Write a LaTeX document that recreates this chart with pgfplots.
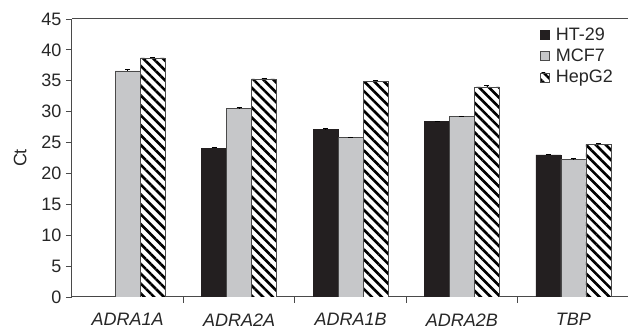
\documentclass[border=0pt]{standalone}
\usepackage{fontspec}
\setmainfont{Liberation Sans}
\usepackage{pgfplots}
\pgfplotsset{compat=1.18}
\usetikzlibrary{patterns.meta}
\definecolor{barblack}{HTML}{231F20}
\definecolor{bargray}{HTML}{C6C7C9}
\definecolor{axgray}{HTML}{4A4A4A}
\begin{document}
\begin{tikzpicture}
\useasboundingbox (-72pt,-34pt) rectangle (556pt,297pt);
\begin{axis}[
  at={(0,0)}, anchor=south west,
  scale only axis, width=556pt, height=278pt,
  ybar, bar width=0.224,
  xmin=-0.5, xmax=4.49,
  ymin=0, ymax=45,
  ytick={0,5,...,45},
  xtick={0,1,2,3,4},
  xticklabels={\textit{ADRA1A},\textit{ADRA2A},\textit{ADRA1B},\textit{ADRA2B},\textit{TBP}},
  minor xtick={0.5,1.5,2.5,3.5},
  major x tick style={draw=none},
  tick align=outside,
  major tick length=6pt, minor tick length=6pt,
  x tick style={axgray, line width=0.8pt},
  y tick style={axgray, line width=0.8pt},
  axis x line*=bottom, axis y line*=left,
  axis line style={axgray, line width=1pt, -},
  ytick pos=left,
  /pgf/number format/assume math mode=true,
  tick label style={font=\fontsize{18}{21}\selectfont, text=black!85},
  xticklabel style={yshift=-7pt},
  yticklabel style={xshift=-1pt},
  ylabel={Ct},
  ylabel style={at={(axis description cs:-0.093,0.5)}, anchor=center, font=\fontsize{18}{21}\selectfont, text=black!85},
  legend cell align=left,
  legend style={draw=none, fill=none, at={(rel axis cs:0.842,0.975)}, anchor=north west,
    font=\fontsize{18}{21}\selectfont, text=black!85, row sep=3pt, inner sep=0pt},
  legend image code/.code={\draw[#1, line width=0.6pt] (0pt,-4.5pt) rectangle (9pt,4.5pt); \path (13pt,0pt);},
  error bars/y dir=plus, error bars/y explicit,
  error bars/error bar style={black, line width=0.6pt},
  error bars/error mark options={rotate=90, mark size=2.5pt, line width=0.6pt, black},
]
\addplot[bar shift=-0.224, fill=barblack, draw=barblack, line width=0.6pt]
  coordinates {(0,0) (1,24.1) +- (0,0.1) (2,27.1) +- (0,0.2) (3,28.4) +- (0,0.1) (4,23.0) +- (0,0.1)};
\addplot[bar shift=0, fill=bargray, draw=axgray, line width=0.6pt]
  coordinates {(0,36.6) +- (0,0.2) (1,30.5) +- (0,0.2) (2,25.8) +- (0,0.1) (3,29.2) +- (0,0.1) (4,22.3) +- (0,0.1)};
\addplot[bar shift=0.224, draw=axgray, line width=0.6pt, fill=white,
  postaction={pattern={Lines[angle=-45, distance=7pt, line width=2.6pt]}, pattern color=black}]
  coordinates {(0,38.7) +- (0,0.1) (1,35.3) +- (0,0.1) (2,34.9) +- (0,0.2) (3,34.0) +- (0,0.2) (4,24.7) +- (0,0.2)};
\legend{HT-29, MCF7, HepG2}
\draw[axgray, line width=1pt] (rel axis cs:0,1) -- (rel axis cs:1,1);
\end{axis}
\end{tikzpicture}
\end{document}
